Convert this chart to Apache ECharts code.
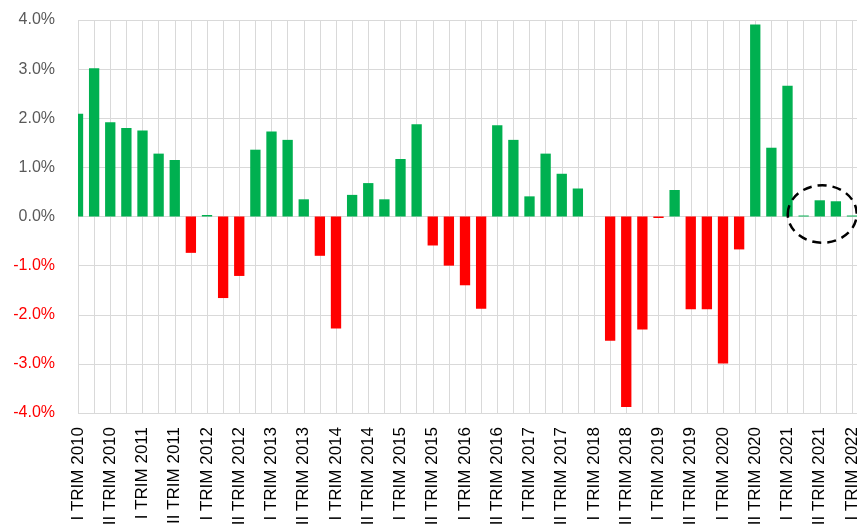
<!DOCTYPE html>
<html>
<head>
<meta charset="utf-8">
<script src="https://cdn.jsdelivr.net/npm/echarts@6/dist/echarts.min.js"></script>
<style>html,body{margin:0;padding:0;background:#fff;}#c{width:857px;height:524px;}</style>
</head>
<body>
<div id="c"></div>
<script>
var quarters = ['I', 'II', 'III', 'IV'];
var years = [2010, 2011, 2012, 2013, 2014, 2015, 2016, 2017, 2018, 2019, 2020, 2021, 2022];
var categories = [];
years.forEach(function (y) {
  quarters.forEach(function (q) {
    if (y < 2022 || q === 'I') categories.push(q + ' TRIM ' + y);
  });
});
// quarterly change, %
var values = [
  2.09, 3.02, 1.92, 1.80, 1.75, 1.28, 1.15, -0.74, 0.03, -1.66,
  -1.21, 1.36, 1.73, 1.56, 0.35, -0.80, -2.28, 0.44, 0.68, 0.35,
  1.17, 1.88, -0.59, -1.00, -1.40, -1.88, 1.86, 1.56, 0.41, 1.28,
  0.87, 0.57, 0, -2.53, -3.88, -2.30, -0.03, 0.54, -1.89, -1.89,
  -2.99, -0.67, 3.91, 1.40, 2.66, 0.02, 0.33, 0.31, 0.02
];
var yTicks = { min: -4, max: 4, interval: 1 };

var FONT = 'Liberation Sans, Arial, sans-serif';
var GRID_COLOR = '#D9D9D9';

var chart = echarts.init(document.getElementById('c'));
chart.setOption({
  animation: false,
  backgroundColor: '#fff',
  grid: [
    { left: 78, right: 5, top: 20, bottom: 111, containLabel: false, outerBoundsMode: 'none' },
    { left: 78, right: 0, top: 20, bottom: 111, containLabel: false, outerBoundsMode: 'none' }
  ],
  xAxis: [{
    type: 'category',
    gridIndex: 0,
    data: categories,
    boundaryGap: false,
    axisLine: { show: false, onZero: false },
    axisTick: { show: false },
    axisLabel: {
      interval: 1,
      rotate: 90,
      margin: 14,
      color: '#000',
      fontFamily: FONT,
      fontSize: 17
    },
    splitLine: { show: true, interval: 0, lineStyle: { color: GRID_COLOR, width: 1 } }
  }, {
    type: 'value',
    gridIndex: 1,
    show: false
  }],
  yAxis: [{
    type: 'value',
    gridIndex: 0,
    min: yTicks.min,
    max: yTicks.max,
    interval: yTicks.interval,
    axisLine: { show: false },
    axisTick: { show: false },
    axisLabel: {
      margin: 23,
      fontFamily: FONT,
      fontSize: 16,
      formatter: function (v) {
        var s = v.toFixed(1) + '%';
        return v < 0 ? '{neg|' + s + '}' : '{pos|' + s + '}';
      },
      rich: {
        neg: { color: '#FF0000', fontSize: 16, fontFamily: FONT },
        pos: { color: '#595959', fontSize: 16, fontFamily: FONT }
      }
    },
    splitLine: { show: false }
  }, {
    type: 'value',
    gridIndex: 1,
    min: yTicks.min,
    max: yTicks.max,
    interval: yTicks.interval,
    axisLine: { show: false },
    axisTick: { show: false },
    axisLabel: { show: false },
    splitLine: { show: true, lineStyle: { color: GRID_COLOR, width: 1 } }
  }],
  series: [{
    type: 'bar',
    xAxisIndex: 0,
    yAxisIndex: 0,
    data: values,
    barWidth: '64%',
    clip: true,
    itemStyle: {
      color: function (p) { return p.value >= 0 ? '#00B050' : '#FF0000'; }
    }
  }]
});

var c = chart.convertToPixel({ xAxisIndex: 0, yAxisIndex: 0 }, [46, 0]);
var leftEdge = chart.convertToPixel({ xAxisIndex: 0, yAxisIndex: 0 }, [0, yTicks.max]);
var bottomEdge = chart.convertToPixel({ xAxisIndex: 0, yAxisIndex: 0 }, [0, yTicks.min]);
chart.setOption({
  graphic: [{
    // clip the half of the first bar that falls left of the plot area
    type: 'rect',
    shape: { x: leftEdge[0] - 12, y: leftEdge[1] - 2, width: 12, height: bottomEdge[1] - leftEdge[1] + 4 },
    style: { fill: '#fff' },
    z: 50
  }, {
    type: 'ellipse',
    shape: { cx: c[0] + 2.5, cy: c[1] - 2.5, rx: 34.5, ry: 28.7 },
    style: { fill: 'none', stroke: '#000', lineWidth: 2.5, lineDash: [9, 6] },
    z: 100
  }]
});
</script>
</body>
</html>
